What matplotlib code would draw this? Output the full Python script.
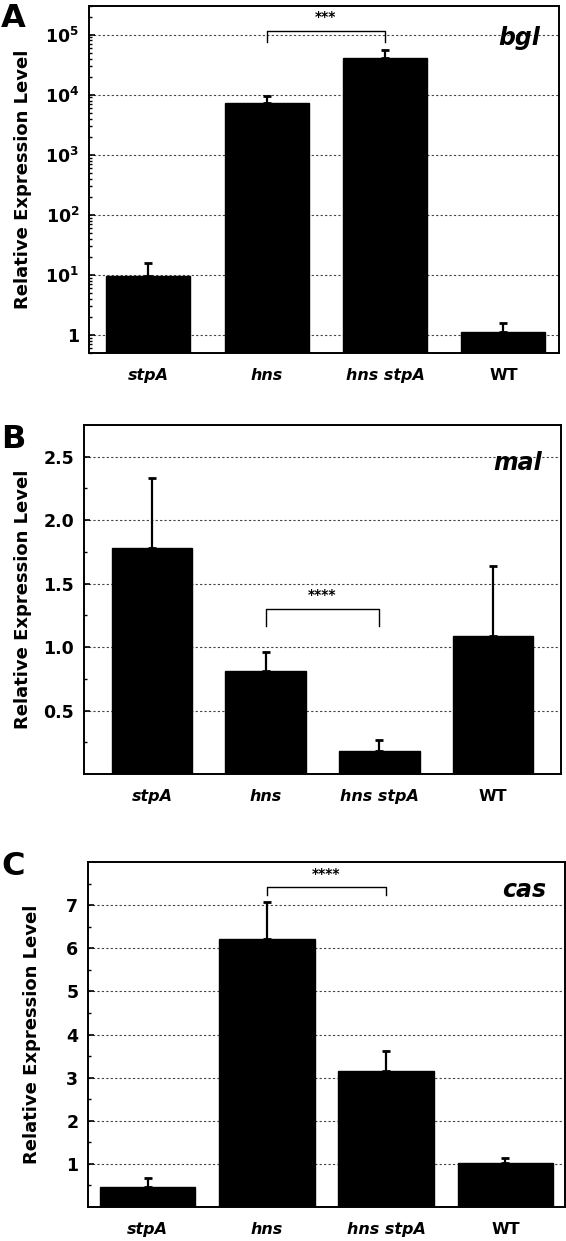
import numpy as np
import matplotlib
matplotlib.use('Agg')
from matplotlib import pyplot as plt
from matplotlib.ticker import FixedLocator, FuncFormatter, LogLocator, NullFormatter

plt.rcParams['font.family'] = ['DejaVu Sans']
plt.rcParams['mathtext.fontset'] = 'dejavusans'

strains = ['stpA', 'hns', 'hns stpA', 'WT']

# bgl (log scale)
bgl_mean = [9.6, 7300, 41500, 1.1]
bgl_err = [5.9, 2400, 14500, 0.5]
# mal
mal_mean = [1.78, 0.815, 0.185, 1.09]
mal_err = [0.55, 0.145, 0.085, 0.55]
# cas
cas_mean = [0.47, 6.22, 3.16, 1.02]
cas_err = [0.20, 0.86, 0.45, 0.11]

W, H = 566, 1241
fig = plt.figure(figsize=(W / 100, H / 100), dpi=100)


def box(l, r, t, b):
    return [l / W, 1 - b / H, (r - l) / W, (b - t) / H]


def panel(px, mean, err, width, xlim, letter, gene, gene_y, letter_top, label_right):
    l, r, t, b = px
    ax = fig.add_axes(box(l, r, t, b))
    x = np.arange(1, len(strains) + 1)
    ax.bar(x, mean, width=width, color='black', edgecolor='black', zorder=3)
    ax.errorbar(x, mean, yerr=[np.zeros(len(err)), err], fmt='none',
                ecolor='black', elinewidth=1.6, capsize=3, capthick=2, zorder=4)
    ax.set_xlim(*xlim)
    ax.set_xticks(x)
    ax.set_xticklabels(strains, fontsize=11.5, fontweight='bold', fontstyle='italic')
    for lab in ax.get_xticklabels():
        if lab.get_text() == 'WT':
            lab.set_fontstyle('normal')
    ax.tick_params(axis='x', length=0, pad=11)
    ax.tick_params(axis='y', which='major', direction='in', length=4, width=1.2,
                   labelsize=12.5, pad=7)
    ax.tick_params(axis='y', which='minor', direction='in', length=2.5, width=1)
    for s in ax.spines.values():
        s.set_linewidth(1.4)
    ax.grid(axis='y', which='major', color='#444444', linestyle=(0, (2, 2)),
            linewidth=0.8, zorder=0)
    ax.set_ylabel('Relative Expression Level', fontsize=13, fontweight='bold')
    ax.yaxis.set_label_coords((label_right - l) / (r - l), 0.5)
    ax.text(0.96, gene_y, gene, transform=ax.transAxes, ha='right', va='baseline',
            fontsize=17, fontweight='bold', fontstyle='italic')
    fig.text(1 / W, 1 - letter_top / H, letter, ha='left', va='top',
             fontsize=23, fontweight='bold')
    return ax


def bracket(ax, y_top, y_end, y_star, stars):
    ax.plot([2, 2, 3, 3], [y_end, y_top, y_top, y_end], color='black', lw=1, zorder=5)
    ax.text(2.5, y_star, stars, ha='center', va='center', fontsize=10, fontweight='bold')


# A: bgl
axA = panel((89, 559, 6, 353), bgl_mean, bgl_err, 0.71, (0.5, 4.47),
            'A', 'bgl', 0.888, 3, 32)
axA.set_yscale('log')
axA.set_ylim(0.5, 3e5)
axA.yaxis.set_major_locator(FixedLocator([1, 10, 100, 1000, 1e4, 1e5]))
axA.yaxis.set_major_formatter(FuncFormatter(
    lambda v, p: '1' if v == 1 else r'$\mathbf{10^{%d}}$' % round(np.log10(v))))
axA.yaxis.set_minor_locator(LogLocator(base=10, subs=np.arange(2, 10)))
axA.yaxis.set_minor_formatter(NullFormatter())
bracket(axA, 1.14e5, 7.6e4, 1.95e5, '***')

# B: mal
axB = panel((84, 561, 425, 774), mal_mean, mal_err, 0.71, (0.4, 4.6),
            'B', 'mal', 0.871, 424, 32)
axB.set_ylim(0, 2.75)
axB.yaxis.set_major_locator(FixedLocator([0.5, 1.0, 1.5, 2.0, 2.5]))
axB.yaxis.set_major_formatter(FuncFormatter(lambda v, p: '%.1f' % v))
axB.yaxis.set_minor_locator(FixedLocator(np.arange(0.25, 2.75, 0.5)))
bracket(axB, 1.30, 1.17, 1.41, '****')

# C: cas
axC = panel((88, 565, 862, 1207), cas_mean, cas_err, 0.8, (0.5, 4.5),
            'C', 'cas', 0.899, 851, 41)
axC.set_ylim(0, 8)
axC.yaxis.set_major_locator(FixedLocator(np.arange(1, 8)))
axC.yaxis.set_major_formatter(FuncFormatter(lambda v, p: '%d' % v))
axC.yaxis.set_minor_locator(FixedLocator(np.arange(0.5, 8, 1.0)))
bracket(axC, 7.43, 7.24, 7.72, '****')

for ax in (axA, axB, axC):
    for lab in ax.get_yticklabels():
        lab.set_fontweight('bold')

fig.savefig('out.png', dpi=100)
